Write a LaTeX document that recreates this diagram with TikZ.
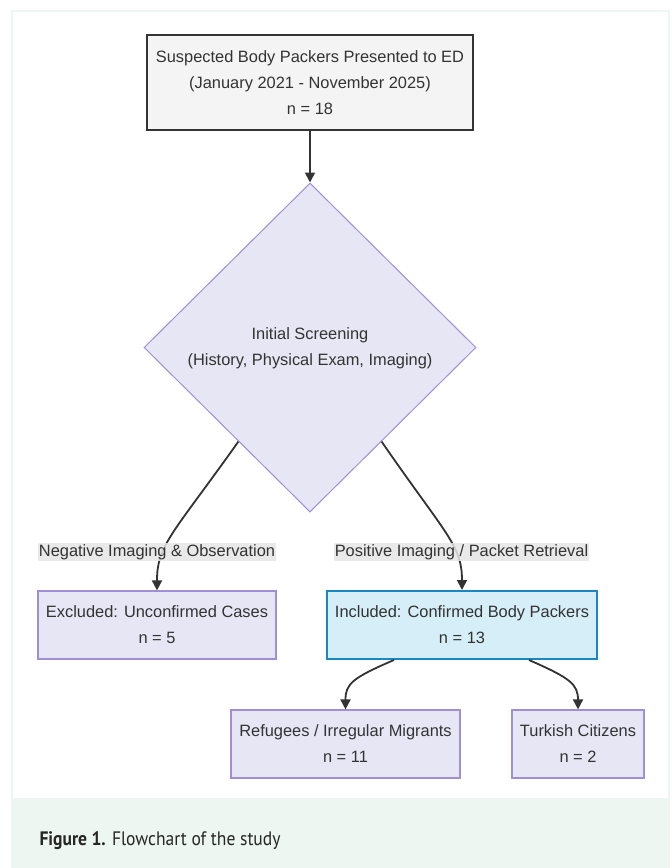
\documentclass[tikz,border=0pt]{standalone}
\usepackage{fontspec}
\setmainfont{Liberation Sans}
\newfontfamily\capfont[FakeStretch=0.9]{PT Sans}
\usetikzlibrary{shapes.geometric,arrows.meta,calc}
\definecolor{txt}{HTML}{333333}
\definecolor{nodefill}{HTML}{E6E6F5}
\definecolor{nodeline}{HTML}{A08ED6}
\definecolor{topfill}{HTML}{F4F4F4}
\definecolor{incfill}{HTML}{D5EEF8}
\definecolor{incline}{HTML}{1A86C2}
\definecolor{lblfill}{HTML}{E6E6E6}
\definecolor{framecol}{HTML}{EEF5F2}
\definecolor{bandcol}{HTML}{EDF6F1}
\tikzset{
  x=1pt, y=-1pt,
  every node/.style={text=txt, font=\fontsize{16.4}{26}\selectfont, align=center},
  box/.style={draw=nodeline, fill=nodefill, line width=1.2pt, inner sep=0pt, minimum height=68pt},
  topbox/.style={draw=txt, fill=topfill, line width=2pt, inner sep=0pt, minimum width=326pt, minimum height=95pt},
  incbox/.style={draw=incline, fill=incfill, line width=2pt, inner sep=0pt, minimum width=270pt, minimum height=68pt},
  dia/.style={diamond, aspect=1, draw=nodeline, fill=nodefill, line width=1pt, inner sep=0pt, minimum width=332pt, minimum height=329pt},
  lbl/.style={fill=lblfill, fill opacity=0.85, text opacity=1, inner xsep=1pt, inner ysep=1.5pt},
  flow/.style={draw=txt, line width=1.8pt, -{Triangle[length=10pt,width=10pt]}},
}
\begin{document}
\begin{tikzpicture}
\useasboundingbox (0,0) rectangle (672,868);
% frame and caption band
\fill[white] (0,0) rectangle (672,868);
\draw[framecol, line width=1.5pt] (12,11) rectangle (669,868);
\fill[bandcol] (12,798) rectangle (670,868);
\node[anchor=base west, font=\capfont\fontsize{19.5}{22}\selectfont, text=black!85] (cap) at (36,845) {\textbf{Figure 1.} Flowchart of the study};

% nodes
\node[topbox] (top) at (310,82.5) {Suspected Body Packers Presented to ED\\(January 2021 - November 2025)\\n = 18};
\node[dia] (d) at (310,347.5) {};
\node (dtext) at (310,348) {Initial Screening\\(History, Physical Exam, Imaging)};
\node[box, minimum width=238pt] (exc) at (157,625) {Excluded: Unconfirmed Cases\\n = 5};
\node[incbox] (inc) at (462,625) {Included: Confirmed Body Packers\\n = 13};
\node[box, minimum width=229pt] (ref) at (345.5,744) {Refugees / Irregular Migrants\\n = 11};
\node[box, minimum width=132pt] (tur) at (578,744) {Turkish Citizens\\n = 2};

% connectors
\draw[flow] (top.south) -- (d.north);
\coordinate (dl) at ($(d.west)!0.57!(d.south)$);
\coordinate (dr) at ($(d.east)!0.57!(d.south)$);
\draw[flow] (dl) .. controls (172,535) and (157,545) .. (exc.north);
\draw[flow] (dr) .. controls (446,535) and (462,545) .. (inc.north);
\draw[flow] ($(inc.south)+(-68,0)$) .. controls (352,678) and (345.5,684) .. (ref.north);
\draw[flow] ($(inc.south)+(67,0)$) .. controls (570,678) and (578,684) .. (tur.north);

% edge labels
\node[lbl] (l1) at (157,552) {Negative Imaging \& Observation};
\node[lbl] (l2) at (461.5,552) {Positive Imaging / Packet Retrieval};
\end{tikzpicture}
\end{document}
